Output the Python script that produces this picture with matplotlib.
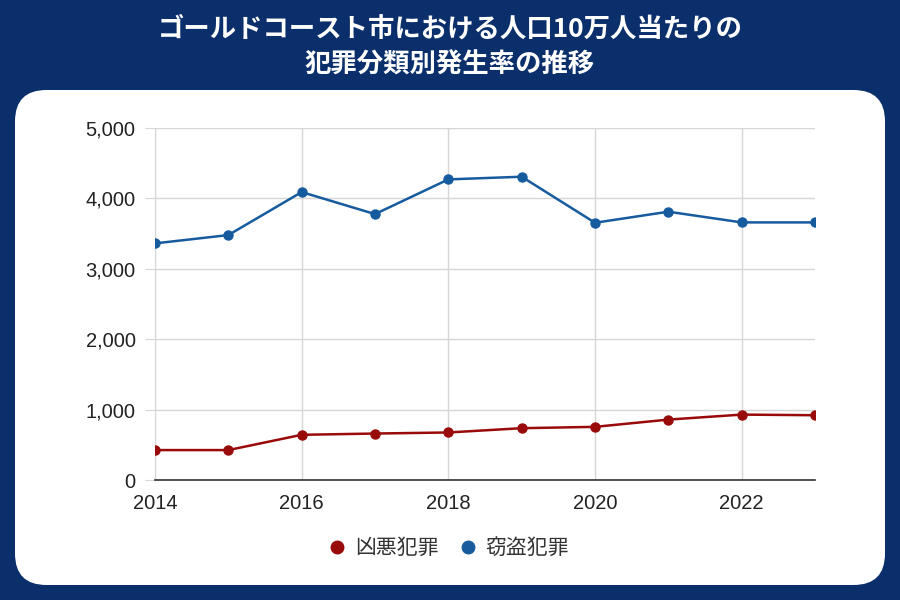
import matplotlib.pyplot as plt
from matplotlib.patches import FancyBboxPatch, Rectangle

# data
years = [2014, 2015, 2016, 2017, 2018, 2019, 2020, 2021, 2022, 2023]
violent = [425, 425, 642, 660, 675, 736, 755, 858, 929, 920]
theft = [3361, 3479, 4090, 3777, 4270, 4308, 3654, 3811, 3659, 3659]
series_names = ["凶悪犯罪", "窃盗犯罪"]
title_text = "ゴールドコースト市における人口10万人当たりの\n犯罪分類別発生率の推移"
x_ticks = [2014, 2016, 2018, 2020, 2022]
y_ticks = [0, 1000, 2000, 3000, 4000, 5000]

NAVY = "#0b2f6b"
RED = "#990a0a"
BLUE = "#175b9f"
JP = ["Noto Sans CJK JP", "DejaVu Sans"]
NUM = ["Liberation Sans", "Noto Sans CJK JP"]

fig = plt.figure(figsize=(9, 6), dpi=100)
fig.patches.append(Rectangle((0, 0), 1, 1, transform=fig.transFigure,
                             facecolor=NAVY, edgecolor="none", zorder=-3))
# white rounded card
W, H = 900, 600
card = FancyBboxPatch((15 / W, 15 / H), 870 / W, 495 / H,
                      boxstyle="round,pad=0,rounding_size=0.035",
                      transform=fig.transFigure, facecolor="white",
                      edgecolor="none", zorder=-2,
                      mutation_aspect=W / H)
fig.patches.append(card)

fig.text(0.5, 1 - 47 / H, title_text, ha="center", va="center",
         color="white", fontsize=19, fontweight="bold", family=JP,
         linespacing=1.45)

ax = fig.add_axes([155 / W, 1 - 480 / H, 660 / W, 352 / H])
ax.set_facecolor("none")

ax.plot(years, violent, color=RED, lw=1.8, marker="o", ms=6.5,
        label=series_names[0], zorder=3)
ax.plot(years, theft, color=BLUE, lw=1.8, marker="o", ms=6.5,
        label=series_names[1], zorder=3)

ax.set_xlim(2014, 2023)
ax.set_ylim(0, 5000)
ax.set_xticks(x_ticks)
ax.set_yticks(y_ticks)
ax.set_yticklabels([f"{v:,}" for v in y_ticks])
ax.grid(True, color="#d6d6d6", lw=1)
ax.set_axisbelow(True)

for s in ["top", "right"]:
    ax.spines[s].set_visible(False)
ax.spines["left"].set_color("#d6d6d6")
ax.spines["bottom"].set_color("#333333")
ax.spines["bottom"].set_linewidth(1.2)
ax.tick_params(axis="y", length=7, color="#d6d6d6", pad=7,
               labelsize=14.5, labelcolor="#222222")
ax.tick_params(axis="x", length=0, pad=10, labelsize=14.5,
               labelcolor="#222222")
for lab in ax.get_xticklabels() + ax.get_yticklabels():
    lab.set_family(NUM)

leg = fig.legend(loc="center", bbox_to_anchor=(0.5, 1 - 548 / H), ncol=2,
                 frameon=False, handlelength=0.6, handletextpad=0.55,
                 columnspacing=1.1, prop={"family": JP, "size": 15})
for h in leg.legend_handles:
    h.set_linestyle("none")
    h.set_markersize(9)
for t in leg.get_texts():
    t.set_color("#333333")

fig.savefig("out.png", dpi=100)
